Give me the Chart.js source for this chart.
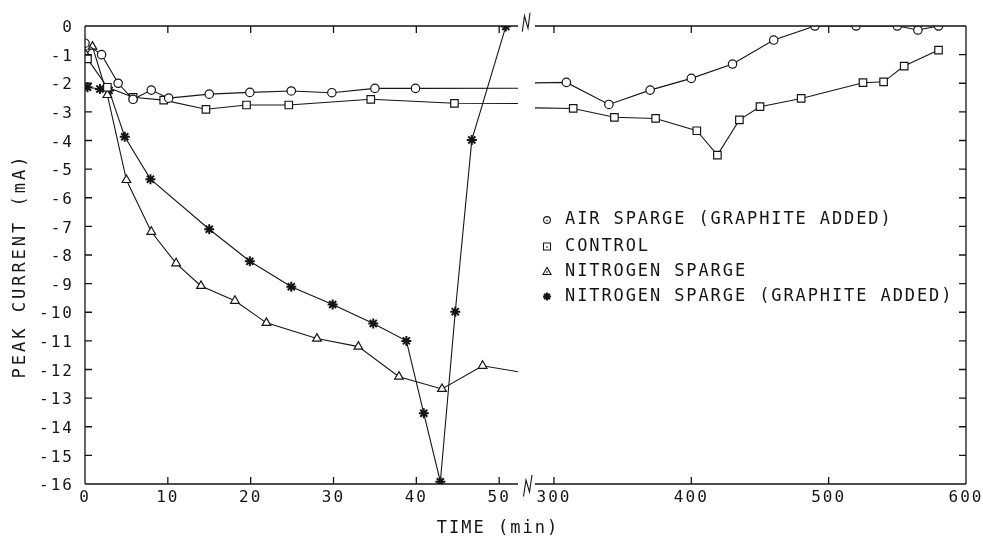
<!DOCTYPE html>
<html>
<head>
<meta charset="utf-8">
<script src="https://cdn.jsdelivr.net/npm/chart.js@4.4.1/dist/chart.umd.min.js"></script>
<style>
  html, body { margin: 0; padding: 0; background: #fff; }
  #wrap { width: 983px; height: 539px; position: relative; }
</style>
</head>
<body>
<div id="wrap"><canvas id="peakChart"></canvas></div>
<script>
// Broken time axis: 0-53 min on the left part, 280-600 min on the right part
const xTicksLeft = [0, 10, 20, 30, 40, 50];
const xTicksRight = [300, 400, 500, 600];
const yTicks = [0, -1, -2, -3, -4, -5, -6, -7, -8, -9, -10, -11, -12, -13, -14, -15, -16];

const seriesNames = [
    'AIR SPARGE (GRAPHITE ADDED)',
    'CONTROL',
    'NITROGEN SPARGE',
    'NITROGEN SPARGE (GRAPHITE ADDED)'
];

// air sparge (graphite added)
const airTimeL = [0, 2, 4, 5.8, 8, 10.1, 15, 19.9, 24.9, 29.8, 35, 39.9];
const airCurL = [-0.6, -1.0, -2.0, -2.56, -2.24, -2.52, -2.38, -2.32, -2.27, -2.33, -2.18, -2.18];
const airTimeR = [309, 340, 370, 400, 430, 460, 490, 520, 550, 565, 580];
const airCurR = [-1.97, -2.74, -2.24, -1.83, -1.33, -0.49, 0, 0, 0, -0.14, 0];

// control
const ctlTimeL = [0.3, 2.7, 5.8, 9.5, 14.6, 19.5, 24.6, 34.5, 44.6];
const ctlCurL = [-1.15, -2.14, -2.49, -2.59, -2.91, -2.76, -2.76, -2.56, -2.70];
const ctlTimeR = [314, 344, 374, 404, 419, 435, 450, 480, 525, 540, 555, 580];
const ctlCurR = [-2.88, -3.19, -3.23, -3.66, -4.51, -3.28, -2.82, -2.53, -1.98, -1.95, -1.40, -0.84];

// nitrogen sparge (last entry is the unmarked end of the line at the break)
const n2Time = [0.1, 0.9, 2.7, 5.0, 8.0, 11.0, 14.0, 18.1, 21.9, 28.0, 33.0, 37.9, 43.1, 48.0, 52.3];
const n2Cur = [-1.0, -0.72, -2.41, -5.38, -7.19, -8.29, -9.08, -9.6, -10.37, -10.92, -11.2, -12.25, -12.68, -11.87, -12.08];

// nitrogen sparge (graphite added)
const n2gTime = [0.3, 1.8, 2.9, 4.8, 7.9, 15.0, 19.9, 24.9, 29.9, 34.8, 38.8, 40.9, 42.9, 44.7, 46.7, 50.8];
const n2gCur = [-2.14, -2.2, -2.25, -3.87, -5.35, -7.1, -8.22, -9.11, -9.73, -10.39, -11.0, -13.53, -15.92, -9.98, -3.98, -0.02];

const FONT = 'DejaVu Sans Mono';
const INK = '#151515';
const GAP = 8.5; // half width of the axis break

function pts(xs, ys) {
    return xs.map((x, i) => ({ x: x, y: ys[i] }));
}

function lineSet(data, axis, style, radius, extra) {
    return Object.assign({
        data: data,
        xAxisID: axis,
        borderColor: INK,
        borderWidth: 1.1,
        pointStyle: style,
        pointRadius: radius,
        pointBorderColor: INK,
        pointBackgroundColor: '#fff',
        pointBorderWidth: 1.2,
        tension: 0,
        fill: false
    }, extra || {});
}

const datasets = [
    // left part also carries the first right point so the line runs off to the break
    lineSet(pts(airTimeL.concat(airTimeR[0]), airCurL.concat(airCurR[0])), 'xL', 'circle', 4.2),
    lineSet(pts([airTimeL[airTimeL.length - 1]].concat(airTimeR), [airCurL[airCurL.length - 1]].concat(airCurR)), 'xR', 'circle', 4.2),
    lineSet(pts(ctlTimeL.concat(ctlTimeR[0]), ctlCurL.concat(ctlCurR[0])), 'xL', 'rect', 5.3),
    lineSet(pts([ctlTimeL[ctlTimeL.length - 1]].concat(ctlTimeR), [ctlCurL[ctlCurL.length - 1]].concat(ctlCurR)), 'xR', 'rect', 5.3),
    lineSet(pts(n2Time, n2Cur), 'xL', 'triangle',
        c => (c.dataIndex === n2Time.length - 1 ? 0 : 5)),
    lineSet(pts(n2gTime, n2gCur), 'xL', 'star', 5, { pointBorderWidth: 2 })
];

// keep every dataset inside its own half of the broken axis
const breakClip = {
    id: 'breakClip',
    beforeDatasetDraw(chart, args) {
        const xs = args.meta.xScale, a = chart.chartArea;
        const left = xs.id === 'xL' ? xs.left : xs.left + GAP;
        const right = xs.id === 'xL' ? xs.right - GAP : xs.right;
        chart.ctx.save();
        chart.ctx.beginPath();
        chart.ctx.rect(left, a.top, right - left, a.bottom - a.top);
        chart.ctx.clip();
    },
    afterDatasetDraw(chart) {
        chart.ctx.restore();
    }
};

const spacing = {
    id: 'spacing',
    beforeUpdate(chart) { chart.ctx.letterSpacing = '2px'; },
    beforeDraw(chart) { chart.ctx.letterSpacing = '2px'; }
};

function breakMark(ctx, x0, y0, p) {
    ctx.moveTo(x0 + p[0][0], y0 + p[0][1]);
    for (let i = 1; i < p.length; i++) ctx.lineTo(x0 + p[i][0], y0 + p[i][1]);
}

const frame = {
    id: 'frame',
    afterDatasetsDraw(chart) {
        const { ctx, chartArea: a, scales } = chart;
        const xL = scales.xL, xR = scales.xR, y = scales.y;
        const tick = 7;
        ctx.save();
        ctx.strokeStyle = INK;
        ctx.lineWidth = 1.3;
        ctx.beginPath();
        [a.top, a.bottom].forEach(yy => {
            ctx.moveTo(xL.left, yy); ctx.lineTo(xL.right - GAP, yy);
            ctx.moveTo(xR.left + GAP, yy); ctx.lineTo(xR.right, yy);
        });
        ctx.moveTo(a.left, a.top); ctx.lineTo(a.left, a.bottom);
        ctx.moveTo(a.right, a.top); ctx.lineTo(a.right, a.bottom);
        [xL, xR].forEach(s => s.ticks.forEach(t => {
            const px = s.getPixelForValue(t.value);
            if (px <= a.left + 1 || px >= a.right - 1) return;
            ctx.moveTo(px, a.top); ctx.lineTo(px, a.top + tick);
            ctx.moveTo(px, a.bottom); ctx.lineTo(px, a.bottom - tick);
        }));
        y.ticks.forEach(t => {
            const py = y.getPixelForValue(t.value);
            if (py <= a.top + 1 || py >= a.bottom - 1) return;
            ctx.moveTo(a.left, py); ctx.lineTo(a.left + tick, py);
            ctx.moveTo(a.right, py); ctx.lineTo(a.right - tick, py);
        });
        ctx.stroke();

        // the two "N" shaped break marks
        ctx.lineWidth = 1.1;
        ctx.beginPath();
        breakMark(ctx, xL.right, a.top, [[-4.2, 5.7], [-2, -10], [1.5, 2.3], [3.5, -13.3]]);
        breakMark(ctx, xL.right, a.bottom, [[-3, 12.5], [-0.5, -4], [3, 8], [5.5, -9]]);
        ctx.stroke();
        ctx.restore();
    },
    afterDraw(chart) {
        const { ctx } = chart;
        ctx.save();
        ctx.fillStyle = INK;
        ctx.textBaseline = 'middle';
        ctx.textAlign = 'center';

        // axis titles
        ctx.font = '17px "' + FONT + '"';
        ctx.letterSpacing = '3px';
        ctx.save();
        ctx.translate(21, 266);
        ctx.rotate(-Math.PI / 2);
        ctx.fillText('PEAK CURRENT (mA)', 0, 0);
        ctx.restore();
        ctx.letterSpacing = '2px';
        ctx.fillText('TIME (min)', 498, 529);

        // legend inside the plot
        const rows = [220, 246.5, 271.5, 296.5];
        const mx = 547, tx = 565;
        ctx.textAlign = 'left';
        ctx.font = '17px "' + FONT + '"';
        ctx.letterSpacing = '1.9px';
        ctx.strokeStyle = INK;
        ctx.lineWidth = 1.1;
        seriesNames.forEach((name, i) => {
            const yy = rows[i];
            ctx.beginPath();
            if (i === 0) {
                ctx.arc(mx, yy, 3.4, 0, Math.PI * 2);
            } else if (i === 1) {
                ctx.rect(mx - 3.5, yy - 3.5, 7, 7);
            } else if (i === 2) {
                ctx.moveTo(mx, yy - 4.2);
                ctx.lineTo(mx + 4, yy + 3);
                ctx.lineTo(mx - 4, yy + 3);
                ctx.closePath();
            } else {
                for (let k = 0; k < 4; k++) {
                    const ang = k * Math.PI / 4;
                    ctx.moveTo(mx + Math.cos(ang) * 4, yy + Math.sin(ang) * 4);
                    ctx.lineTo(mx - Math.cos(ang) * 4, yy - Math.sin(ang) * 4);
                }
            }
            ctx.lineWidth = i === 3 ? 2 : 1.1;
            ctx.stroke();
            if (i < 3) {
                ctx.fillRect(mx - 0.7, yy - 0.2, 1.4, 1.4);
            }
            ctx.fillText(name, tx, yy);
        });
        ctx.restore();
    }
};

const tickFont = { family: FONT, size: 16 };

function xAxis(min, max, weight, tickList) {
    return {
        type: 'linear',
        position: 'bottom',
        stack: 'time',
        stackWeight: weight,
        min: min,
        max: max,
        grid: { display: false, drawTicks: false },
        border: { display: false },
        ticks: {
            font: tickFont,
            color: INK,
            padding: 4,
            autoSkip: false,
            maxRotation: 0
        },
        afterBuildTicks(s) { s.ticks = tickList.map(v => ({ value: v })); },
        afterFit(s) {
            s.height = 55;
            // end labels may hang over the plot edge; do not shrink the plot for them
            s.paddingLeft = 0;
            s.paddingRight = 0;
        }
    };
}

new Chart(document.getElementById('peakChart'), {
    type: 'line',
    data: { datasets: datasets },
    plugins: [spacing, breakClip, frame],
    options: {
        responsive: true,
        maintainAspectRatio: false,
        animation: false,
        layout: { autoPadding: false, padding: { left: 0, right: 17, top: 26, bottom: 0 } },
        plugins: {
            legend: { display: false },
            tooltip: { enabled: false }
        },
        scales: {
            xL: xAxis(0, 53.3, 441.5, xTicksLeft),
            xR: xAxis(280, 600, 439.5, xTicksRight),
            y: {
                type: 'linear',
                position: 'left',
                min: -16,
                max: 0,
                grid: { display: false, drawTicks: false },
                border: { display: false },
                ticks: {
                    font: tickFont,
                    color: INK,
                    padding: 11,
                    labelOffset: 2,
                    autoSkip: false
                },
                afterBuildTicks(s) { s.ticks = yTicks.map(v => ({ value: v })); },
                afterFit(s) {
                    s.width = 85;
                    s.paddingTop = 0;
                    s.paddingBottom = 0;
                }
            }
        }
    }
});
</script>
</body>
</html>
